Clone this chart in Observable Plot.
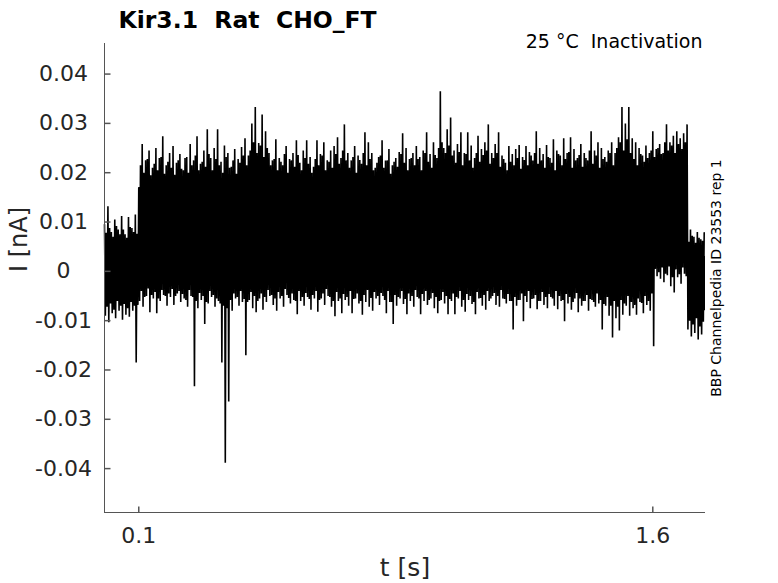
<!DOCTYPE html>
<html><head><meta charset="utf-8">
<script src="https://cdn.jsdelivr.net/npm/d3@7"></script>
<script src="https://cdn.jsdelivr.net/npm/@observablehq/plot@0.6"></script>
<style>body{margin:0;background:#fff}</style>
</head><body><div id="chart"></div>
<script>
const title = "Kir3.1  Rat  CHO_FT";
const condition = "25 °C  Inactivation";
const sideNote = "BBP Channelpedia ID 23553 rep 1";
const xLabel = "t [s]";
const yLabel = "I [nA]";
const xTicks = [0.1, 1.6];
const yTicks = [0.04, 0.03, 0.02, 0.01, 0, -0.01, -0.02, -0.03, -0.04];
const xDomain = [0, 1.7538];
const yDomain = [-0.0489, 0.0462];

// current trace read as extrema (nA). Within each 10 ms step i:
// upper at t=i*dt, lower at (i+0.25)*dt, upper2 at (i+0.5)*dt, lower2 at (i+0.75)*dt
const dt = 0.01;
const upper = [
 0.0095,0.0132,0.0080,0.0105,0.0085,0.0112,0.0075,0.0110,0.0088,0.0115,
 0.0170,0.0258,0.0225,0.0245,0.0210,0.0250,0.0230,0.0274,0.0215,0.0240,
 0.0254,0.0220,0.0238,0.0205,0.0232,0.0258,0.0225,0.0274,0.0218,0.0245,
 0.0288,0.0230,0.0250,0.0288,0.0222,0.0255,0.0240,0.0212,0.0248,0.0228,
 0.0252,0.0270,0.0235,0.0300,0.0333,0.0260,0.0318,0.0284,0.0240,0.0225,
 0.0268,0.0230,0.0215,0.0254,0.0228,0.0240,0.0266,0.0220,0.0245,0.0266,
 0.0232,0.0212,0.0266,0.0238,0.0262,0.0225,0.0245,0.0254,0.0272,0.0230,
 0.0298,0.0240,0.0225,0.0254,0.0235,0.0218,0.0282,0.0262,0.0240,0.0210,
 0.0232,0.0266,0.0225,0.0248,0.0215,0.0230,0.0242,0.0280,0.0250,0.0228,
 0.0240,0.0254,0.0232,0.0245,0.0282,0.0238,0.0262,0.0230,0.0365,0.0250,
 0.0288,0.0312,0.0245,0.0258,0.0282,0.0240,0.0282,0.0255,0.0230,0.0275,
 0.0248,0.0262,0.0298,0.0240,0.0258,0.0282,0.0235,0.0220,0.0254,0.0238,
 0.0248,0.0256,0.0232,0.0254,0.0242,0.0225,0.0284,0.0250,0.0238,0.0256,
 0.0230,0.0268,0.0245,0.0235,0.0270,0.0240,0.0272,0.0248,0.0230,0.0258,
 0.0240,0.0225,0.0284,0.0245,0.0262,0.0250,0.0232,0.0245,0.0262,0.0240,
 0.0272,0.0333,0.0300,0.0333,0.0270,0.0262,0.0250,0.0235,0.0255,0.0240,
 0.0284,0.0248,0.0258,0.0240,0.0298,0.0262,0.0275,0.0284,0.0270,0.0280,
 0.0298,0.0085,0.0070,0.0080,0.0065,0.0078
];
const lower = [
 -0.0090,-0.0103,-0.0085,-0.0095,-0.0080,-0.0098,-0.0088,-0.0092,-0.0080,-0.0185,
 -0.0060,-0.0072,-0.0050,-0.0083,-0.0055,-0.0085,-0.0060,-0.0048,-0.0070,-0.0052,
 -0.0068,-0.0045,-0.0062,-0.0055,-0.0072,-0.0050,-0.0233,-0.0075,-0.0058,-0.0107,
 -0.0065,-0.0052,-0.0072,-0.0060,-0.0185,-0.0388,-0.0264,-0.0080,-0.0055,-0.0070,
 -0.0062,-0.0170,-0.0058,-0.0075,-0.0083,-0.0055,-0.0078,-0.0062,-0.0050,-0.0068,
 -0.0080,-0.0055,-0.0072,-0.0048,-0.0065,-0.0058,-0.0087,-0.0060,-0.0070,-0.0052,
 -0.0078,-0.0055,-0.0082,-0.0055,-0.0068,-0.0050,-0.0072,-0.0091,-0.0060,-0.0085,
 -0.0058,-0.0070,-0.0085,-0.0055,-0.0065,-0.0088,-0.0062,-0.0072,-0.0080,-0.0055,
 -0.0068,-0.0050,-0.0085,-0.0062,-0.0107,-0.0070,-0.0055,-0.0066,-0.0087,-0.0060,
 -0.0072,-0.0052,-0.0087,-0.0060,-0.0068,-0.0055,-0.0075,-0.0085,-0.0058,-0.0065,
 -0.0087,-0.0060,-0.0087,-0.0055,-0.0072,-0.0082,-0.0058,-0.0066,-0.0087,-0.0055,
 -0.0070,-0.0078,-0.0060,-0.0050,-0.0068,-0.0072,-0.0055,-0.0065,-0.0060,-0.0118,
 -0.0070,-0.0058,-0.0101,-0.0062,-0.0075,-0.0055,-0.0077,-0.0060,-0.0068,-0.0075,
 -0.0052,-0.0070,-0.0077,-0.0060,-0.0101,-0.0065,-0.0078,-0.0055,-0.0083,-0.0070,
 -0.0060,-0.0080,-0.0058,-0.0072,-0.0065,-0.0118,-0.0070,-0.0090,-0.0134,-0.0095,
 -0.0120,-0.0088,-0.0070,-0.0090,-0.0075,-0.0088,-0.0062,-0.0085,-0.0068,-0.0080,
 -0.0152,-0.0010,-0.0015,-0.0022,-0.0008,-0.0030,-0.0043,-0.0012,-0.0025,-0.0005,
 -0.0118,-0.0132,-0.0125,-0.0138,-0.0128
];
const upper2 = [
 0.0078,0.0088,0.0070,0.0092,0.0075,0.0085,0.0068,0.0090,0.0080,0.0076,
 0.0215,0.0200,0.0228,0.0195,0.0218,0.0205,0.0232,0.0198,0.0222,0.0210,
 0.0196,0.0225,0.0208,0.0230,0.0200,0.0215,0.0235,0.0205,0.0222,0.0212,
 0.0238,0.0205,0.0228,0.0215,0.0200,0.0232,0.0210,0.0225,0.0198,0.0220,
 0.0235,0.0215,0.0245,0.0262,0.0240,0.0255,0.0232,0.0250,0.0215,0.0228,
 0.0205,0.0222,0.0238,0.0200,0.0225,0.0212,0.0236,0.0205,0.0230,0.0218,
 0.0200,0.0228,0.0215,0.0235,0.0205,0.0222,0.0210,0.0238,0.0218,0.0245,
 0.0225,0.0210,0.0232,0.0200,0.0226,0.0240,0.0215,0.0228,0.0205,0.0220,
 0.0235,0.0210,0.0225,0.0198,0.0222,0.0212,0.0238,0.0220,0.0205,0.0230,
 0.0215,0.0228,0.0205,0.0240,0.0222,0.0210,0.0236,0.0250,0.0262,0.0240,
 0.0255,0.0235,0.0220,0.0242,0.0215,0.0238,0.0225,0.0210,0.0240,0.0222,
 0.0236,0.0245,0.0218,0.0230,0.0240,0.0212,0.0228,0.0205,0.0222,0.0215,
 0.0230,0.0208,0.0226,0.0215,0.0235,0.0240,0.0218,0.0225,0.0210,0.0232,
 0.0220,0.0205,0.0238,0.0215,0.0228,0.0242,0.0210,0.0225,0.0236,0.0212,
 0.0230,0.0245,0.0218,0.0235,0.0210,0.0228,0.0222,0.0240,0.0215,0.0250,
 0.0262,0.0245,0.0268,0.0240,0.0228,0.0215,0.0238,0.0222,0.0230,0.0245,
 0.0232,0.0250,0.0238,0.0262,0.0245,0.0255,0.0240,0.0258,0.0248,0.0262,
 0.0060,0.0072,0.0058,0.0068,0.0062
];
const lower2 = [
 -0.0072,-0.0065,-0.0078,-0.0060,-0.0070,-0.0066,-0.0075,-0.0062,-0.0070,-0.0068,
 -0.0040,-0.0052,-0.0035,-0.0048,-0.0042,-0.0055,-0.0038,-0.0050,-0.0045,-0.0036,
 -0.0050,-0.0040,-0.0046,-0.0058,-0.0038,-0.0052,-0.0060,-0.0044,-0.0050,-0.0062,
 -0.0040,-0.0048,-0.0055,-0.0065,-0.0070,-0.0075,-0.0058,-0.0045,-0.0052,-0.0040,
 -0.0056,-0.0062,-0.0042,-0.0050,-0.0060,-0.0045,-0.0052,-0.0038,-0.0048,-0.0055,
 -0.0042,-0.0050,-0.0036,-0.0054,-0.0045,-0.0060,-0.0040,-0.0052,-0.0044,-0.0056,
 -0.0048,-0.0040,-0.0058,-0.0045,-0.0036,-0.0052,-0.0060,-0.0042,-0.0055,-0.0046,
 -0.0052,-0.0040,-0.0056,-0.0045,-0.0060,-0.0048,-0.0038,-0.0054,-0.0042,-0.0050,
 -0.0044,-0.0058,-0.0040,-0.0062,-0.0048,-0.0052,-0.0040,-0.0056,-0.0045,-0.0050,
 -0.0038,-0.0055,-0.0046,-0.0040,-0.0058,-0.0044,-0.0052,-0.0060,-0.0042,-0.0050,
 -0.0056,-0.0045,-0.0052,-0.0040,-0.0058,-0.0046,-0.0050,-0.0062,-0.0042,-0.0054,
 -0.0048,-0.0040,-0.0055,-0.0044,-0.0050,-0.0038,-0.0056,-0.0046,-0.0060,-0.0052,
 -0.0058,-0.0045,-0.0050,-0.0040,-0.0056,-0.0048,-0.0060,-0.0042,-0.0052,-0.0046,
 -0.0055,-0.0040,-0.0050,-0.0058,-0.0046,-0.0052,-0.0062,-0.0044,-0.0055,-0.0060,
 -0.0048,-0.0056,-0.0062,-0.0045,-0.0058,-0.0066,-0.0052,-0.0070,-0.0060,-0.0072,
 -0.0058,-0.0065,-0.0050,-0.0062,-0.0068,-0.0055,-0.0064,-0.0050,-0.0060,-0.0045,
 0.0005,-0.0002,0.0008,-0.0005,0.0010,-0.0012,0.0004,-0.0006,0.0008,-0.0010,
 -0.0100,-0.0108,-0.0095,-0.0112,-0.0102
];
// dense core of the noise band (nA), step changes at these times (s)
const coreT  = [0, 0.1, 1.605, 1.703, 1.7538];
const coreHi = [0.0045, 0.017, 0.0175, 0.003, 0.003];
const coreLo = [-0.003, -0.0015, 0.003, -0.008, -0.008];

const trace = [];
upper.forEach((u, i) => {
  trace.push({t: i * dt, v: u});
  if (i < lower.length) {
    trace.push({t: (i + 0.25) * dt, v: lower[i]});
    trace.push({t: (i + 0.5) * dt, v: upper2[i]});
    trace.push({t: (i + 0.75) * dt, v: lower2[i]});
  }
});
const core = coreT.map((t, i) => ({t, hi: coreHi[i], lo: coreLo[i]}));

const axisColor = "#555";
const textColor = "#262626";
const tickRight = {draw(c) { c.moveTo(0, 0); c.lineTo(6, 0); }};
const tickUp = {draw(c) { c.moveTo(0, 0); c.lineTo(0, -6); }};
const font = "DejaVu Sans";

const chart = Plot.plot({
  width: 778, height: 583,
  marginLeft: 104, marginRight: 73, marginTop: 43, marginBottom: 71,
  x: {domain: xDomain, axis: null},
  y: {domain: yDomain, axis: null},
  style: {fontFamily: font, background: "#fff", overflow: "visible"},
  marks: [
    Plot.areaY(core, {x: "t", y1: "lo", y2: "hi", fill: "#000", curve: "step-after"}),
    Plot.line(trace, {x: "t", y: "v", stroke: "#000", strokeWidth: 1.6, strokeLinejoin: "miter"}),
    Plot.ruleX([xDomain[0]], {stroke: axisColor}),
    Plot.ruleY([yDomain[0]], {stroke: axisColor}),
    Plot.dot(yTicks, {y: d => d, frameAnchor: "left", symbol: tickRight, stroke: axisColor, fill: "none", r: 3}),
    Plot.dot(xTicks, {x: d => d, frameAnchor: "bottom", symbol: tickUp, stroke: axisColor, fill: "none", r: 3}),
    Plot.text(yTicks, {y: d => d, frameAnchor: "left", dx: -41, text: d => d === 0 ? "0" : d.toFixed(2),
      textAnchor: "middle", lineAnchor: "middle", fontSize: 22, fill: textColor}),
    Plot.text(xTicks, {x: d => d, frameAnchor: "bottom", dy: 30, text: d => d.toFixed(1),
      textAnchor: "middle", lineAnchor: "bottom", fontSize: 22, fill: textColor}),
    Plot.text([xLabel], {frameAnchor: "bottom", dy: 63, lineAnchor: "bottom", fontSize: 25, fill: textColor}),
    Plot.text([yLabel], {frameAnchor: "left", dx: -78, dy: -6, rotate: -90, lineAnchor: "bottom", fontSize: 24, fill: textColor}),
    Plot.text([title], {frameAnchor: "top-left", dx: 14, dy: -15.5, textAnchor: "start", lineAnchor: "bottom",
      fontSize: 23.5, fontWeight: "bold", fill: "#000"}),
    Plot.text([condition], {frameAnchor: "top-right", dx: -3, dy: 4, textAnchor: "end", lineAnchor: "bottom",
      fontSize: 19, fill: "#000"}),
    Plot.text([sideNote], {frameAnchor: "right", dx: 15, rotate: -90, textAnchor: "middle", lineAnchor: "bottom",
      fontSize: 14, fill: "#000"})
  ]
});
chart.setAttributeNS("http://www.w3.org/XML/1998/namespace", "xml:space", "preserve");
document.getElementById("chart").appendChild(chart);
</script>
</body></html>
